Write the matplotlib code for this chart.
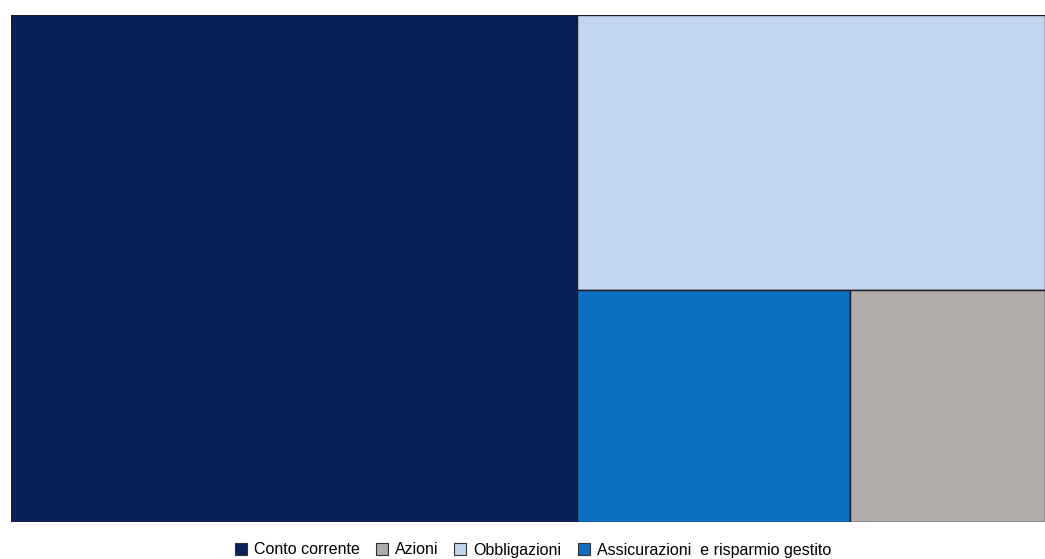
import matplotlib.pyplot as plt
from matplotlib.patches import Rectangle

# shares of the portfolio (percent)
labels = ["Conto corrente", "Obbligazioni", "Assicurazioni  e risparmio gestito", "Azioni"]
values = [54.7, 24.6, 12.1, 8.6]
colors = ["#0a2158", "#c2d5ee", "#0b6fc4", "#b1aba9"]

legend_order = ["Conto corrente", "Azioni", "Obbligazioni", "Assicurazioni  e risparmio gestito"]


def layout(vals, W, H):
  # first block takes full height, second takes top of the rest,
  # the last two split the bottom side by side
  total = sum(vals)
  rects = []
  w0 = W * vals[0] / total
  rects.append((0, 0, w0, H))
  rest_w = W - w0
  rest = sum(vals[1:])
  h1 = H * vals[1] / rest
  rects.append((w0, H - h1, rest_w, h1))
  low = sum(vals[2:])
  x = w0
  for v in vals[2:]:
    w = rest_w * v / low
    rects.append((x, 0, w, H - h1))
    x += w
  return rects


def main():
  plt.rcParams['font.family'] = ['Liberation Sans', 'DejaVu Sans']
  fig = plt.figure(figsize=(10.45, 5.59), dpi=100)
  W, H = 1034.0, 507.0
  ax = fig.add_axes([11 / 1045, 37 / 559, W / 1045, H / 559])
  for (x, y, w, h), c in zip(layout(values, W, H), colors):
    ax.add_patch(Rectangle((x, y), w, h, facecolor=c, edgecolor="#1a1a2a", linewidth=1.0))
  ax.set_xlim(0, W)
  ax.set_ylim(0, H)
  ax.axis("off")

  handles = []
  for name in legend_order:
    c = colors[labels.index(name)]
    handles.append(Rectangle((0, 0), 1, 1, facecolor=c, edgecolor="#333333", linewidth=0.8))
  fig.legend(handles, legend_order, loc="center", bbox_to_anchor=(0.510, 9 / 559),
             ncol=4, frameon=False, fontsize=11.5, handlelength=0.75, handleheight=0.75,
             handletextpad=0.45, columnspacing=1.0, borderpad=0)

  fig.savefig("out.png", dpi=100)


if __name__ == '__main__':
  main()
